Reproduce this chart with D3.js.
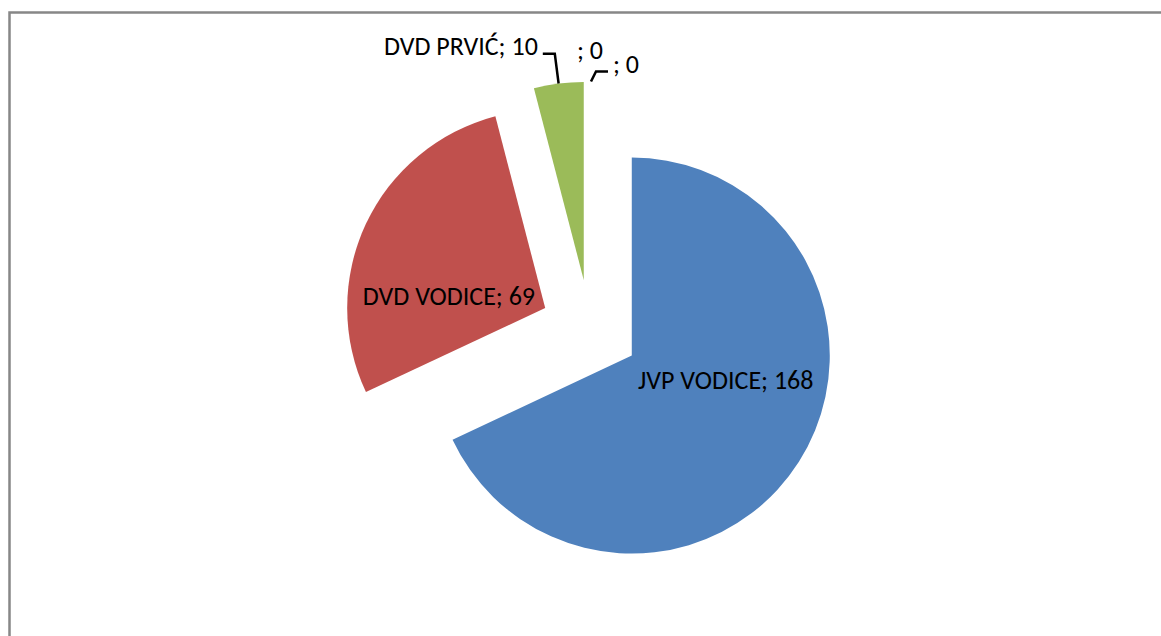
<!DOCTYPE html>
<html>
<head>
<meta charset="utf-8">
<script src="https://cdn.jsdelivr.net/npm/d3@7"></script>
<style>
  body { margin: 0; background: #fff; }
  svg { display: block; }
  text { font-family: Carlito, Lato, "Open Sans", sans-serif; fill: #000; }
</style>
</head>
<body>
<svg id="pie-svg" width="1161" height="636"></svg>
<script>
const names = ["JVP VODICE", "DVD VODICE", "DVD PRVIĆ", "", ""];
const values = [168, 69, 10, 0, 0];
const colors = ["#4F81BD", "#C0504D", "#9BBB59", "#8064A2", "#4BACC6"];

(function drawPie() {
  const svg = d3.select("#pie-svg");
  const width = 1161, height = 636;

  // chart frame (only top + left edges show)
  svg.append("rect")
    .attr("x", 9.5).attr("y", 12.5)
    .attr("width", width + 20).attr("height", height + 20)
    .attr("fill", "none")
    .attr("stroke", "#878787")
    .attr("stroke-width", 2.5);

  const cx = 590, cy = 329;
  const r = 198;
  const explode = 0.25 * r;

  const data = names.map((n, i) => ({ name: n, value: values[i], color: colors[i] }));

  const pie = d3.pie().sort(null).value(d => d.value);
  const arcs = pie(data);

  const arc = d3.arc().innerRadius(0).outerRadius(r);

  const polar = (a, rad) => [Math.sin(a) * rad, -Math.cos(a) * rad];
  const mid = d => (d.startAngle + d.endAngle) / 2;
  const shift = d => polar(mid(d), explode);

  const g = svg.append("g").attr("transform", `translate(${cx},${cy})`);

  g.selectAll(".slice")
    .data(arcs.filter(d => d.value > 0))
    .enter()
    .append("path")
    .attr("class", "slice")
    .attr("transform", d => `translate(${shift(d)})`)
    .attr("d", arc)
    .attr("fill", d => d.data.color);

  const fs = "26px";
  const rot = 18 * Math.PI / 180;

  // inside labels for the two big slices
  arcs.slice(0, 2).forEach(d => {
    const s = shift(d);
    const p = polar(mid(d) - rot, 0.49 * r);
    g.append("text")
      .attr("x", s[0] + p[0])
      .attr("y", s[1] + p[1])
      .attr("text-anchor", "middle")
      .attr("dominant-baseline", "central")
      .attr("font-size", fs)
      .text(`${d.data.name}; ${d.data.value}`);
  });

  // DVD PRVIĆ with leader line
  const dg = arcs[2];
  const sg = shift(dg);
  const p0 = polar(mid(dg), r), p1 = polar(mid(dg), r + 30);
  const a0 = [sg[0] + p0[0], sg[1] + p0[1]];
  const a1 = [sg[0] + p1[0], sg[1] + p1[1]];
  const a2 = [a1[0] - 12, a1[1]];
  g.append("path")
    .attr("d", d3.line()([a0, a1, a2]))
    .attr("fill", "none").attr("stroke", "#000").attr("stroke-width", 2.5);
  g.append("text")
    .attr("x", a2[0] - 5).attr("y", a2[1] + 1)
    .attr("text-anchor", "end")
    .attr("font-size", fs)
    .text(`${dg.data.name}; ${dg.data.value}`);

  // first zero slice, label without leader
  const z1 = arcs[3];
  const sz1 = shift(z1);
  const q = polar(mid(z1), r + 32);
  g.append("text")
    .attr("x", sz1[0] + q[0]).attr("y", sz1[1] + q[1])
    .attr("text-anchor", "middle")
    .attr("dominant-baseline", "central")
    .attr("font-size", fs)
    .text(`${z1.data.name}; ${z1.data.value}`);

  // second zero slice, label with leader to the right
  const z2 = arcs[4];
  const sz2 = shift(z2);
  const b0 = polar(mid(z2), r), b1 = polar(mid(z2), r + 10);
  const c0 = [sz2[0] + b0[0] + 1, sz2[1] + b0[1]];
  const c1 = [sz2[0] + b1[0] + 6, sz2[1] + b1[1]];
  const c2 = [c1[0] + 12, c1[1]];
  g.append("path")
    .attr("d", d3.line()([c0, c1, c2]))
    .attr("fill", "none").attr("stroke", "#000").attr("stroke-width", 2.5);
  g.append("text")
    .attr("x", c2[0] + 5).attr("y", c2[1] + 1)
    .attr("font-size", fs)
    .text(`${z2.data.name}; ${z2.data.value}`);
})();
</script>
</body>
</html>
